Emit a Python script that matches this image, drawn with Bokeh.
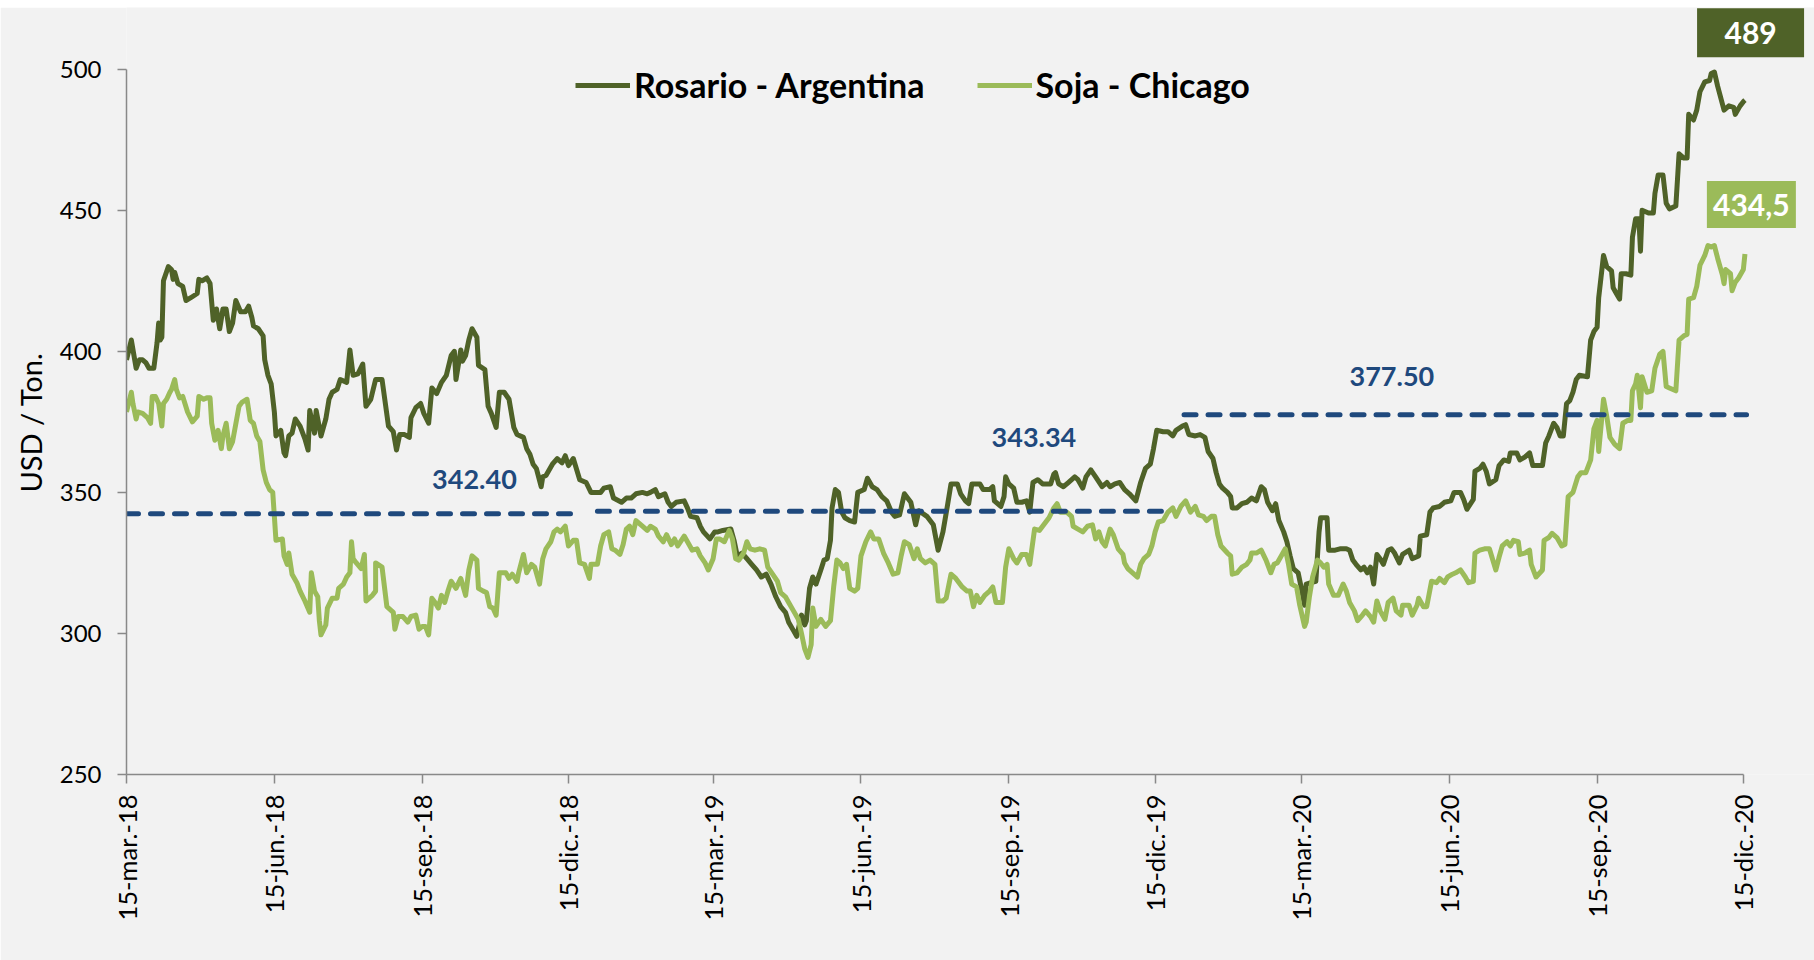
import numpy as np
import pandas as pd
from bokeh.plotting import figure
from bokeh.layouts import column
from bokeh.models import (ColumnDataSource, Range1d, FixedTicker, CustomJSTickFormatter,
                          Legend, LegendItem, Title, Spacer)
from bokeh.core.properties import value
from bokeh.embed import file_html
from bokeh.resources import INLINE

# ---------------- DATA ----------------
START = "2018-03-15"   # day 0 of the series below (days after 15-mar-18, USD / Ton.)

rosario_points = [
    (0,397),(3,404),(6,394),(8,397),(10,397),(12,396),(14,394),(17,394),(19,403),(20,410),(21,404),(22,405),
    (23,425),(26,430),(28,429),(29,425.5),(30,428),(32,424),(35,423),(37,418),(40,419),(44,420.5),(45,425.5),
    (47,425),(50,426),(52,424),(54,411),(56,415),(58,408),(60,415),(62,415),(64,407),(66,410),(68,418),(71,414),
    (74,414),(76,416),(78,412),(79,409),(82,408),(85,405.5),(86,397),(88,391.5),(90,388.5),(92,378.5),(93,370),
    (96,372),(98,364),(99,363),(101,370),(103,371),(105,376),(108,373.5),(111,369),(113,365),(114,379),(117,371),
    (118,379),(121,370),(124,376),(126,383),(128,385.5),(131,386.5),(133,390),(137,389),(139,400.5),(141,391.5),
    (144,392),(147,395.5),(149,380.5),(152,383),(155,390),
    (159,390),(163,373.5),(166,371.5),(168,365),(170,370.5),(173,370.5),(176,369.5),(177,376.5),(180,380),
    (183,381.5),(185,378),(188,374.5),(190,387),(193,385),(196,389),(199,391.5),(202,398.5),(204,400),(205,390),
    (208,400.5),(209,396.5),(211,398.5),(213,404),(215,408),(218,405),(219,395),(223,393.5),(225,380.5),(227,378),
    (230,373),(232,385.5),(235,385.5),(238,383),(241,373),(243,370.5),(247,369.5),(249,365.5),(251,363.5),
    (253,360),(255,358.5),(258,352),(259,355.5),(261,356),(265,360),(268,362),(271,360.5),(273,363),(275,359.5),
    (278,362),(282,354.5),(286,353.5),(289,350),(295,350),(297,351.5),(301,352),(303,348),(308,346.5),(311,348),
    (314,348),(317,349.5),(321,350),(324,349.5),
    (326,350),(329,351),(331,348.5),(335,349.5),(337,346.5),(339,345),(342,346.5),(347,347),(349,344.5),
    (351,341.5),(355,341),(357,338),(359,336),(363,333.5),(366,336),(368,336),(371,336.5),(376,337),(378,333),
    (380,327.5),(383,328.5),(386,326.5),(389,324.5),(392,322.5),(395,320),(398,321),(401,317.5),(404,313),
    (407,309.5),(410,307.5),(412,304),(415,301),(417,299),(420,306.5),(422,303),(423,304.5),(425,316),(427,320),
    (429,317.5),(432,322.5),(434,326),(436,326.5),(438,333),(439,344.5),(441,351),(443,350),(445,343),(447,341),
    (450,340),(453,339.5),(455,350),(459,351),(461,355),(464,352),(467,351),(470,348.5),(473,347),(476,343),
    (478,341.5),(481,342),(484,349.5),(488,346.5),(491,338.5),(493,343.5),
    (498,341.5),(502,338.5),(505,329.5),(508,336),(511,346),(513,353),(517,353),(519,349.5),(522,347),(524,346),
    (526,353),(531,353),(533,351),(537,351),(539,352),(540,347),(544,345),(546,348.5),(547,355.5),(549,353),
    (552,351.5),(554,346.5),(557,346.5),(560,347),(562,343),(564,353.5),(567,354.5),(570,353),(575,353),
    (577,356.5),(578,357),(580,353),(583,352),(586,353.5),(590,355.5),(592,354.5),(595,351.5),(597,355.5),
    (600,358),(603,355.5),(607,352),(610,353.5),(612,352),(615,353),(618,353.5),(621,351),(624,349.5),(628,347),
    (631,353.5),(634,358.5),(637,360),(639,365.5),(641,372),(645,371.5),(648,371.5),(651,370),(653,372),
    (657,373.5),(659,374),(661,370.5),
    (665,370),(668,370.5),(671,369.5),(673,364.5),(676,362),(678,357),(680,353),(682,351.5),(685,350),(687,348.5),
    (688,344.5),(691,344.5),(694,346),(697,346.5),(700,348),(703,347),(706,352),(708,351),(710,346.5),(713,343.5),
    (715,346),(717,340),(720,336),(722,332.5),(724,327.5),(726,323),(729,321.5),(731,316),(733,310),(734,317.5),
    (737,318),(740,318.5),(742,336),(743,341),(747,341),(748,329.5),(752,329.5),(755,330),(759,330),(761,329.5),
    (763,326),(765,324.5),(768,322.5),(770,323.5),(772,321.5),(774,323.5),(776,317.5),(778,328),(780,326.5),
    (782,324.5),(785,329.5),(787,330),(789,328.5),(792,325),(794,328),(798,329.5),(800,326.5),(804,327.5),
    (805,334.5),(809,335),(811,343),(813,344.5),(817,345),(820,346.5),(824,347),(826,350),
    (830,350),(832,347.5),(834,344),(838,347.5),(839,357.5),(842,358.5),(844,360),(846,357.5),(848,353),
    (852,354.5),(854,359.5),(857,361.5),(860,361),(861,364),(865,364),(867,361.5),(870,362.5),(873,364),
    (875,359.5),(878,359.5),(881,359.5),(883,367.5),(885,370),(888,374.5),(890,373),(892,370),(894,370),
    (896,381.5),(898,382.5),(900,385.5),(902,390),(904,391.5),(909,391),(911,404),(913,407),(915,408.5),
    (916,419),(919,434),(921,430),(924,428.5),(925,422.5),(927,420.5),(929,418.5),(930,427.5),(933,427.5),
    (936,427),(937,440.5),(939,447),(941,447),(942,435.5),(943,450),(947,449),(950,449),(951,456),(953,462.5),
    (956,462.5),(958,452.5),(960,450.5),(964,451.5),(966,470),(969,468.5),(971,468.5),(972,484),(975,482),
    (977,485.5),(979,492),(982,495.5),(985,496),(986,498.5),(988,499),(990,494),(994,485.5),(997,487),
    (1000,486.5),(1001,484),(1004,487),(1006,488.5),(1007,489),
]

soja_points = [
    (0,378.5),(3,385.5),(4,381.5),(6,376),(7,378.5),(10,378),(13,376.5),(15,374.5),(16,384),(18,384),(20,381.5),
    (22,373.5),(23,381.5),(25,383),(27,385.5),(28,386.5),(30,390),(31,386.5),(33,383.5),(35,384),(38,378.5),
    (41,375),(44,377),(45,384),(48,383),(50,383.5),(52,383.5),(53,374.5),(55,368.5),(57,372),(59,365.5),(60,370),
    (62,374.5),(64,365.5),(66,368),(70,380.5),(72,382),(75,383),(77,375.5),(79,374.5),(81,370),(83,368),(85,358),
    (87,353.5),(89,351),(91,350),(92,341.5),(93,333),(97,333.5),(98,327.5),(100,324.5),(101,328.5),(103,321),
    (106,318),(108,315),(111,311.5),(114,307.5),(115,321.5),(117,315),(119,313),(120,304.5),(121,299.5),(124,303),
    (125,309),(128,312.5),(131,312.5),(132,316),(135,317.5),(137,320),(139,321.5),(140,332.5),(141,326.5),
    (143,325),(146,323),(148,328),(149,311.5),(153,313.5),(155,315),(155,325),
    (159,323.5),(162,309.5),(166,307.5),(167,301.5),(169,306),(172,306),(175,304),(177,306),(180,306.5),
    (182,301.5),(184,302.5),(186,302.5),(188,299.5),(190,312.5),(192,311),(194,309),(196,313.5),(198,311),
    (200,315),(202,318.5),(205,316),(208,319.5),(211,313.5),(213,322.5),(215,327.5),(218,326),(219,316),(222,315),
    (224,314.5),(226,309.5),(228,309),(230,306.5),(232,321.5),(236,321.5),(238,319.5),(240,321),(243,318.5),
    (244,321.5),(247,328),(249,321.5),(252,324.5),(254,323.5),(257,317.5),(259,326.5),(261,330),(264,332.5),
    (266,336),(268,337),(270,336),(273,338),(275,331),(278,333),(280,333),(282,325),(285,324.5),(288,319.5),
    (289,324.5),(293,324.5),(295,331),(297,335),(300,336),(302,330),(304,329.5),(307,328),(309,331.5),(311,337),
    (313,338),(315,335),(317,340),(321,338),(324,336.5),
    (326,338),(329,337),(331,334.5),(334,332.5),(336,335),(339,331.5),(341,333.5),(343,331),(347,334.5),
    (350,331.5),(352,329.5),(355,330),(357,327.5),(360,325),(362,322.5),(365,326.5),(367,333.5),(369,333.5),
    (372,332.5),(375,336.5),(377,333.5),(379,326.5),(381,326),(384,328.5),(386,332.5),(388,330),(391,329.5),
    (394,330),(397,329.5),(399,323.5),(402,321),(405,318.5),(407,314.5),(410,313),(412,311),(415,308),(418,305),
    (420,300),(422,294.5),(424,291.5),(426,296),(427,309),(429,302.5),(432,305),(435,302.5),(438,304.5),
    (440,316.5),(442,326),(444,325),(446,323),(448,324.5),(450,316),(453,315),(455,316),(457,327.5),(460,332.5),
    (463,336),(465,333.5),(468,333.5),(471,328.5),(474,325),(477,321),(480,321.5),(482,327.5),(484,332.5),
    (487,331.5),(490,326.5),(492,330),
    (494,326.5),(497,325),(500,326),(503,324.5),(505,311.5),(508,311.5),(510,312.5),(513,321),(516,319.5),
    (518,318),(520,316.5),(523,315),(525,315),(527,309.5),(529,313.5),(531,311),(534,313.5),(537,315),
    (539,316.5),(541,311),(545,311),(547,323.5),(549,330),(552,326.5),(554,325),(557,328),(560,328),(562,324.5),
    (565,337),(568,336.5),(572,339.5),(574,341),(577,344.5),(579,346),(581,343),(585,343),(588,341.5),(589,338),
    (592,337),(595,336),(598,338),(601,338.5),(603,333.5),(605,336),(607,332.5),(609,331),(612,337),(614,335),
    (617,330),(620,328),(621,325),(623,323),(626,321.5),(629,320),(631,324.5),(633,326.5),(636,328),(638,331),
    (640,336),(642,339.5),(645,340),(648,343),(651,344.5),(653,341.5),(656,345),(659,347),
    (662,343),(665,345),(667,342),(670,341.5),(672,340),(675,341.5),(677,341.5),(679,335),(681,331),(685,328.5),
    (687,327.5),(688,321),(691,321.5),(694,323.5),(697,324.5),(699,326),(700,328.5),(703,328.5),(706,329.5),
    (709,326),(712,321.5),(714,324.5),(716,325),(719,328),(721,330),(723,324.5),(725,317.5),(728,316.5),
    (730,310),(733,302.5),(734,304),(736,313),(738,320),(741,326),(743,325),(745,323.5),(747,324.5),(748,317.5),
    (751,313.5),(754,313.5),(757,317.5),(759,315),(761,311),(764,308),(766,304.5),(769,306.5),(771,308),
    (774,306),(776,304),(778,311.5),(780,308),(783,305),(785,311),(788,312.5),(790,308),(793,306.5),(794,310),
    (798,310),(800,306.5),(803,310),(804,312.5),(807,309.5),(809,309.5),(812,318.5),(815,318),(817,319.5),
    (820,318),(822,320),(825,321),(827,321.5),
    (830,322.5),(833,320),(835,318),(838,318.5),(839,328.5),(842,329.5),(845,330),(848,330),(852,322.5),(854,327),
    (856,331),(859,332.5),(861,331),(863,333),(866,332.5),(867,328),(870,328.5),(873,329.5),(874,324.5),(877,320),
    (881,322.5),(882,333),(885,334),(887,335.5),(890,334),(893,331),(895,331.5),(897,348.5),(900,350),
    (903,355.5),(905,357),(908,357),(911,361.5),(913,372.5),(915,375.5),(916,364.5),(919,383),(921,377),
    (923,369.5),(926,367),(929,365.5),(931,374.5),(934,375.5),(936,375.5),(937,386),(939,388.5),(940,391.5),
    (942,380),(943,391),(946,385.5),(949,386),(951,394),(954,399),(956,400),(958,387.5),(960,387),(964,386),
    (966,404),(969,405.5),(971,406),(972,418.5),(975,419),(977,423),(979,430.5),(982,434),(984,437.5),
    (986,437),(988,437.5),(990,433),(993,427),(994,424),(995,429),(998,427.5),(999,421.5),(1001,424.5),
    (1003,426),(1006,429),(1007,434.5),
]

series_names = ["Rosario - Argentina", "Soja - Chicago"]
last_labels = ["489", "434,5"]

avg_values = [342.40, 343.34, 377.50]
avg_labels = ["342.40", "343.34", "377.50"]
avg_start = ["2018-03-15", "2019-01-02", "2020-01-02"]
avg_end = ["2018-12-20", "2019-12-20", "2020-12-17"]

tick_dates = ["2018-03-15", "2018-06-15", "2018-09-15", "2018-12-15",
              "2019-03-15", "2019-06-15", "2019-09-15", "2019-12-15",
              "2020-03-15", "2020-06-15", "2020-09-15", "2020-12-15"]
month_abbr = ["ene.", "feb.", "mar.", "abr.", "may.", "jun.",
              "jul.", "ago.", "sep.", "oct.", "nov.", "dic."]
y_ticks = [250, 300, 350, 400, 450, 500]
y_title = "USD / Ton."

# ---------------- STYLE / LAYOUT ----------------
DARK = "#4F6228"
LIGHT = "#9BBB59"
NAVY = "#1F497D"
BG = "#F2F2F2"
AXIS = "#898989"
FONT = "Lato"

TOP_GAP = 7
W, H = 1814, 953
BORDER_L = 126
FRAME_W = W - BORDER_L
FRAME_H = 767
BORDER_B = H - FRAME_H
PX_PER_DAY = 1.6072
PX_PER_USD = 2.8212

t0 = pd.Timestamp(START)


def to_dates(days):
    return (t0 + pd.to_timedelta(list(days), unit="D")).to_numpy()


r_days, r_usd = zip(*rosario_points)
s_days, s_usd = zip(*soja_points)

x_end = t0 + pd.Timedelta(days=FRAME_W / PX_PER_DAY)
y_top = y_ticks[0] + FRAME_H / PX_PER_USD

p = figure(width=W, height=H, x_axis_type="datetime",
           x_range=Range1d(t0, x_end), y_range=Range1d(y_ticks[0], y_top),
           output_backend="svg", toolbar_location=None,
           min_border_left=BORDER_L, min_border_right=0, min_border_top=0,
           min_border_bottom=BORDER_B,
           background_fill_color=BG, border_fill_color=BG, outline_line_color=None)
p.xgrid.visible = False
p.ygrid.visible = False

src_r = ColumnDataSource(dict(date=to_dates(r_days), usd=list(r_usd)))
src_s = ColumnDataSource(dict(date=to_dates(s_days), usd=list(s_usd)))
r1 = p.line("date", "usd", source=src_r, line_color=DARK, line_width=5, line_join="round")
r2 = p.line("date", "usd", source=src_s, line_color=LIGHT, line_width=5, line_join="round")

for v, s, e in zip(avg_values, avg_start, avg_end):
    p.line([pd.Timestamp(s), pd.Timestamp(e)], [v, v], line_color=NAVY, line_width=5,
           line_dash="12 12", line_cap="round")

# average labels (positions in days / USD)
avg_label_day = [216.5, 564.6, 787.3]
avg_label_y = [354.7, 369.6, 391.2]
p.text(x=to_dates(avg_label_day), y=avg_label_y, text=avg_labels, text_color=NAVY,
       text_font=value(FONT), text_font_style="bold", text_font_size="27px",
       text_align="center", text_baseline="middle")

# last value boxes
box_day = [1010.5, 1011.0]
box_y = [512.9, 452.0]
box_w = [107, 89]
box_h = [49, 47]
p.rect(x=to_dates(box_day), y=box_y, width=box_w, height=box_h,
       width_units="screen", height_units="screen",
       fill_color=[DARK, LIGHT], line_color=None)
p.text(x=to_dates(box_day), y=box_y, text=last_labels, text_color="white",
       text_font=value(FONT), text_font_style="bold", text_font_size="30px",
       text_align="center", text_baseline="middle")

# axes
tick_ms = [pd.Timestamp(d).value / 1e6 for d in tick_dates]
xa = p.xaxis[0]
xa.ticker = FixedTicker(ticks=tick_ms, minor_ticks=[])
xa.formatter = CustomJSTickFormatter(args=dict(months=month_abbr), code="""
    const d = new Date(tick);
    return d.getUTCDate() + '-' + months[d.getUTCMonth()] + '-' + String(d.getUTCFullYear()).slice(2);
""")
xa.bounds = (pd.Timestamp(tick_dates[0]), pd.Timestamp(tick_dates[-1]))
xa.major_label_orientation = np.pi / 2
ya = p.yaxis[0]
ya.ticker = FixedTicker(ticks=y_ticks, minor_ticks=[])
ya.bounds = (y_ticks[0], y_ticks[-1])

for ax in (xa, ya):
    ax.axis_line_color = AXIS
    ax.axis_line_width = 1.5
    ax.major_tick_line_color = AXIS
    ax.major_tick_line_width = 1.5
    ax.major_tick_out = 9
    ax.major_tick_in = 0
    ax.minor_tick_line_color = None
    ax.major_label_text_font = FONT
    ax.major_label_text_color = "black"
xa.major_label_text_font_size = "25.5px"
ya.major_label_text_font_size = "24px"
xa.major_label_standoff = 11
ya.major_label_standoff = 16

# y axis title: starts 282px above the frame bottom, so it is centred on the 250-500 span
ytitle = Title(text=y_title, align="left", offset=282, standoff=18,
               text_font=FONT, text_font_size="29px", text_font_style="normal",
               text_color="black")
p.add_layout(ytitle, "left")

legend = Legend(items=[LegendItem(label=series_names[0], renderers=[r1]),
                       LegendItem(label=series_names[1], renderers=[r2])],
                orientation="horizontal", location=(449, FRAME_H - 62 - 36),
                glyph_width=55, glyph_height=36, label_height=36, label_standoff=4,
                spacing=52, padding=0, margin=0, border_line_color=None,
                background_fill_alpha=0, label_text_font=FONT, label_text_font_style="bold",
                label_text_font_size="34px", label_text_color="black")
p.add_layout(legend)

layout = column(Spacer(width=W, height=TOP_GAP), p)
open("out.html", "w").write(file_html(layout, INLINE))
